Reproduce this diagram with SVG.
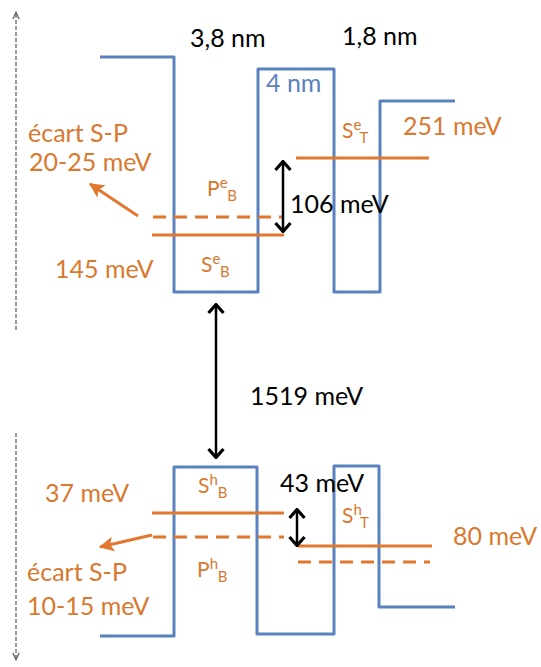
<svg xmlns="http://www.w3.org/2000/svg" width="541" height="667" viewBox="0 0 541 667">
<defs>
<style>
.band{fill:none;stroke:#5A82BE;stroke-width:3;stroke-linejoin:round}
.lvl{stroke:#E2772E;stroke-width:3;fill:none}
.dash{stroke-dasharray:13 8}
.axis{stroke:#555;stroke-width:1.2;stroke-dasharray:4 2;fill:none}
.blk{stroke:#000;stroke-width:2.5;fill:none}
.oarr{stroke:#E2772E;stroke-width:3;fill:none}
text{font-family:Lato,"Liberation Sans",sans-serif}
.t{font-size:25px;fill:#000}
.o{font-size:25px;fill:#D8792F}
.b{font-size:25px;fill:#5A82BE}
.s{font-size:21px;fill:#D8792F}
.sm{font-size:15px}
</style>
<marker id="chev" viewBox="0 0 12 18" refX="11" refY="9" markerWidth="12" markerHeight="18" markerUnits="userSpaceOnUse" orient="auto-start-reverse">
<path d="M2,1.5 L10.5,9 L2,16.5" fill="none" stroke="#000" stroke-width="3.2"/>
</marker>
<marker id="oh" viewBox="0 0 14 14" refX="12" refY="7" markerWidth="16" markerHeight="16" markerUnits="userSpaceOnUse" orient="auto">
<path d="M0,0.5 L13,7 L0,13.5 L3,7 Z" fill="#E2772E"/>
</marker>
<marker id="ax" viewBox="0 0 10 8" refX="9" refY="4" markerWidth="9" markerHeight="8" markerUnits="userSpaceOnUse" orient="auto">
<path d="M1,0.5 L9,4 L1,7.5" fill="none" stroke="#555" stroke-width="1.2"/>
</marker>
</defs>

<g id="axes">
<line class="axis" x1="16" y1="330" x2="16" y2="12" marker-end="url(#ax)"/>
<line class="axis" x1="16" y1="433" x2="16" y2="660" marker-end="url(#ax)"/>
</g>

<g id="conduction-band">
<path class="band" d="M100,57 H174 V292 H258 V69 H334 V292 H380 V101 H455"/>
</g>
<g id="valence-band">
<path class="band" d="M100,636 H174 V467 H257 V634 H334 V466 H379 V607 H455"/>
</g>

<g id="levels">
<line class="lvl dash" x1="153" y1="217" x2="284" y2="217"/>
<line class="lvl" x1="152" y1="235" x2="284" y2="235"/>
<line class="lvl" x1="296" y1="158" x2="429" y2="158"/>
<line class="lvl" x1="152" y1="513" x2="284" y2="513"/>
<line class="lvl dash" x1="153" y1="537" x2="284" y2="537"/>
<line class="lvl" x1="298" y1="546" x2="432" y2="546"/>
<line class="lvl dash" x1="298" y1="562" x2="430" y2="562"/>
</g>

<g id="connectors">
<line class="blk" x1="216" y1="304" x2="216" y2="458" marker-start="url(#chev)" marker-end="url(#chev)"/>
<line class="blk" x1="283" y1="161" x2="283" y2="232" marker-start="url(#chev)" marker-end="url(#chev)"/>
<line class="blk" x1="297" y1="509" x2="297" y2="546" marker-start="url(#chev)" marker-end="url(#chev)"/>
<line class="oarr" x1="138" y1="216" x2="90" y2="184" marker-end="url(#oh)"/>
<line class="oarr" x1="152" y1="535" x2="100" y2="547" marker-end="url(#oh)"/>
</g>

<g id="labels">
<text class="t" x="190" y="47">3,8 nm</text>
<text class="t" x="342" y="45">1,8 nm</text>
<text class="b" x="266" y="92">4 nm</text>
<text class="o" x="28" y="142">écart S-P</text>
<text class="o" x="29" y="171">20-25 meV</text>
<text class="o" x="55" y="278">145 meV</text>
<text class="o" x="403" y="135">251 meV</text>
<text class="t" x="290" y="213">106 meV</text>
<text class="t" x="250" y="405">1519 meV</text>
<text class="o" x="45" y="502">37 meV</text>
<text class="t" x="280" y="492">43 meV</text>
<text class="o" x="453" y="545">80 meV</text>
<text class="o" x="27" y="581">écart S-P</text>
<text class="o" x="27" y="615">10-15 meV</text>
<text class="s" x="207" y="196">P<tspan class="sm" dy="-8">e</tspan><tspan class="sm" dy="13">B</tspan></text>
<text class="s" x="201" y="272">S<tspan class="sm" dy="-8">e</tspan><tspan class="sm" dy="13">B</tspan></text>
<text class="s" x="342" y="138">S<tspan class="sm" dy="-8">e</tspan><tspan class="sm" dy="13">T</tspan></text>
<text class="s" x="198" y="493">S<tspan class="sm" dy="-8">h</tspan><tspan class="sm" dy="13">B</tspan></text>
<text class="s" x="342" y="523">S<tspan class="sm" dy="-8">h</tspan><tspan class="sm" dy="13">T</tspan></text>
<text class="s" x="197" y="577">P<tspan class="sm" dy="-8">h</tspan><tspan class="sm" dy="13">B</tspan></text>
</g>
</svg>
